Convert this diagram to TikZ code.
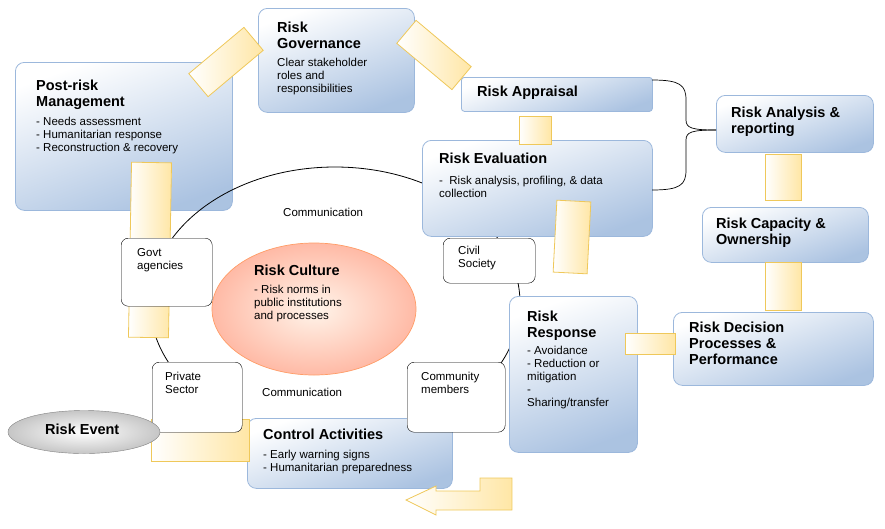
\documentclass[tikz,border=0pt]{standalone}
\usepackage{fontspec}
\setmainfont{Liberation Sans}
\usetikzlibrary{shapes.geometric,decorations.pathreplacing}
\definecolor{bb}{HTML}{9CB8DC}
\definecolor{yb}{HTML}{EFC85A}
\tikzset{
 bluebox/.style={draw=bb,rounded corners=9pt,top color=white,bottom color=bb!85,shading angle=20,line width=0.8pt,align=left,anchor=north west,inner sep=0pt},
 ybar/.style={draw=yb,left color=white,right color=yellow!45!orange!35,line width=0.8pt,inner sep=0pt},
 wbox/.style={draw=black,fill=white,rounded corners=7pt,align=left,anchor=north west,font=\fontsize{11.5}{13}\selectfont},
 ttl/.style={font=\bfseries\fontsize{14.5}{16}\selectfont,align=left,anchor=north west,inner sep=0pt},
 bdy/.style={font=\fontsize{11.5}{13}\selectfont,align=left,anchor=north west,inner sep=0pt},
}
\begin{document}
\begin{tikzpicture}[x=1pt,y=-1pt]
\useasboundingbox (0,0) rectangle (885,528);
% boxes
\node[bluebox,minimum width=217,minimum height=148] (pm) at (15,62) {};
% big ellipse
\node[draw,ellipse,minimum width=370,minimum height=272,line width=0.8pt] (big) at (335,303) {};
\node[bluebox,minimum width=156,minimum height=104] (rg) at (258,8) {};
\node[bluebox,minimum width=191,minimum height=34,rounded corners=3pt] (ra) at (461,77) {};
\node[bluebox,minimum width=230,minimum height=96] (re) at (422,140) {};
\node[bluebox,minimum width=157,minimum height=57] (ran) at (716,95) {};
\node[bluebox,minimum width=166,minimum height=55] (rc) at (702,207) {};
\node[bluebox,minimum width=200,minimum height=73] (rd) at (673,312) {};
\node[bluebox,minimum width=128,minimum height=156] (rr) at (509,296) {};
\node[bluebox,minimum width=205,minimum height=70] (ca) at (247,418) {};
% yellow bars
\node[ybar,minimum width=72,minimum height=30,rotate=40] (y1) at (226,62) {};
\node[ybar,minimum width=72,minimum height=30,rotate=-40] (y2) at (434,55) {};
\node[ybar,minimum width=32,minimum height=28] (y3) at (535,130) {};
\node[ybar,minimum width=34,minimum height=72,rotate=-3] (y4) at (572,237) {};
\node[ybar,minimum width=40,minimum height=175,rotate=-1] (y5) at (150,250) {};
\node[ybar,minimum width=36,minimum height=46] (y6) at (783,177) {};
\node[ybar,minimum width=36,minimum height=48] (y7) at (783,286) {};
\node[ybar,minimum width=50,minimum height=21] (y8) at (650,344) {};
\node[ybar,minimum width=98,minimum height=42] (y9) at (200,440) {};
% bottom arrow
\draw[ybar] (480,478) -- (512,478) -- (512,510) -- (436,510) -- (436,515) -- (406,500) -- (436,486) -- (436,491) -- (480,491) -- cycle;
% brace
\draw[line width=0.7pt] (652,80) .. controls (680,80) and (686,85) .. (686,100) -- (686,120) .. controls (686,128) and (692,130) .. (716,130);
\draw[line width=0.7pt] (652,190) .. controls (680,190) and (686,185) .. (686,170) -- (686,140) .. controls (686,132) and (692,130) .. (716,130);
% texts
\node[ttl] at (36,80) {Post-risk\\Management};
\node[bdy] at (36,117) {- Needs assessment\\- Humanitarian response\\- Reconstruction \& recovery};
\node[ttl] at (277,22) {Risk\\Governance};
\node[bdy] at (277,58) {Clear stakeholder\\roles and\\responsibilities};
\node[ttl] at (477,86) {Risk Appraisal};
\node[ttl] at (439,153) {Risk Evaluation};
\node[bdy] at (439,176) {- \ Risk analysis, profiling, \& data\\collection};
\node[ttl] at (731,107) {Risk Analysis \&\\reporting};
\node[ttl] at (716,218) {Risk Capacity \&\\Ownership};
\node[ttl] at (689,322) {Risk Decision\\Processes \&\\Performance};
\node[ttl] at (527,311) {Risk\\Response};
\node[bdy] at (527,346) {- Avoidance\\- Reduction or\\mitigation\\-\\Sharing/transfer};
\node[ttl] at (263,429) {Control Activities};
\node[bdy] at (263,450) {- Early warning signs\\- Humanitarian preparedness};
% risk culture
\node[draw=orange!70!red!60,ellipse,minimum width=204,minimum height=132,inner color=orange!8,outer color=orange!45!red!35,line width=0.7pt] (rcu) at (314,309) {};
\node[ttl] at (254,265) {Risk Culture};
\node[bdy] at (254,285) {- Risk norms in\\public institutions\\and processes};
% white boxes
\node[wbox,minimum width=91,minimum height=68] (ga) at (121,238) {};
\node[bdy] at (137,248) {Govt\\agencies};
\node[wbox,minimum width=92,minimum height=45] (cs) at (443,238) {};
\node[bdy] at (458,246) {Civil\\Society};
\node[wbox,minimum width=90,minimum height=70] (ps) at (152,362) {};
\node[bdy] at (165,372) {Private\\Sector};
\node[wbox,minimum width=98,minimum height=70] (cm) at (407,362) {};
\node[bdy] at (421,372) {Community\\members};
\node[bdy] at (283,208) {Communication};
\node[bdy] at (262,388) {Communication};
% risk event
\node[draw=gray,ellipse,minimum width=152,minimum height=43,inner color=white,outer color=gray!45] (rev) at (84,432) {};
\node[ttl] at (45,424) {Risk Event};
\end{tikzpicture}
\end{document}
